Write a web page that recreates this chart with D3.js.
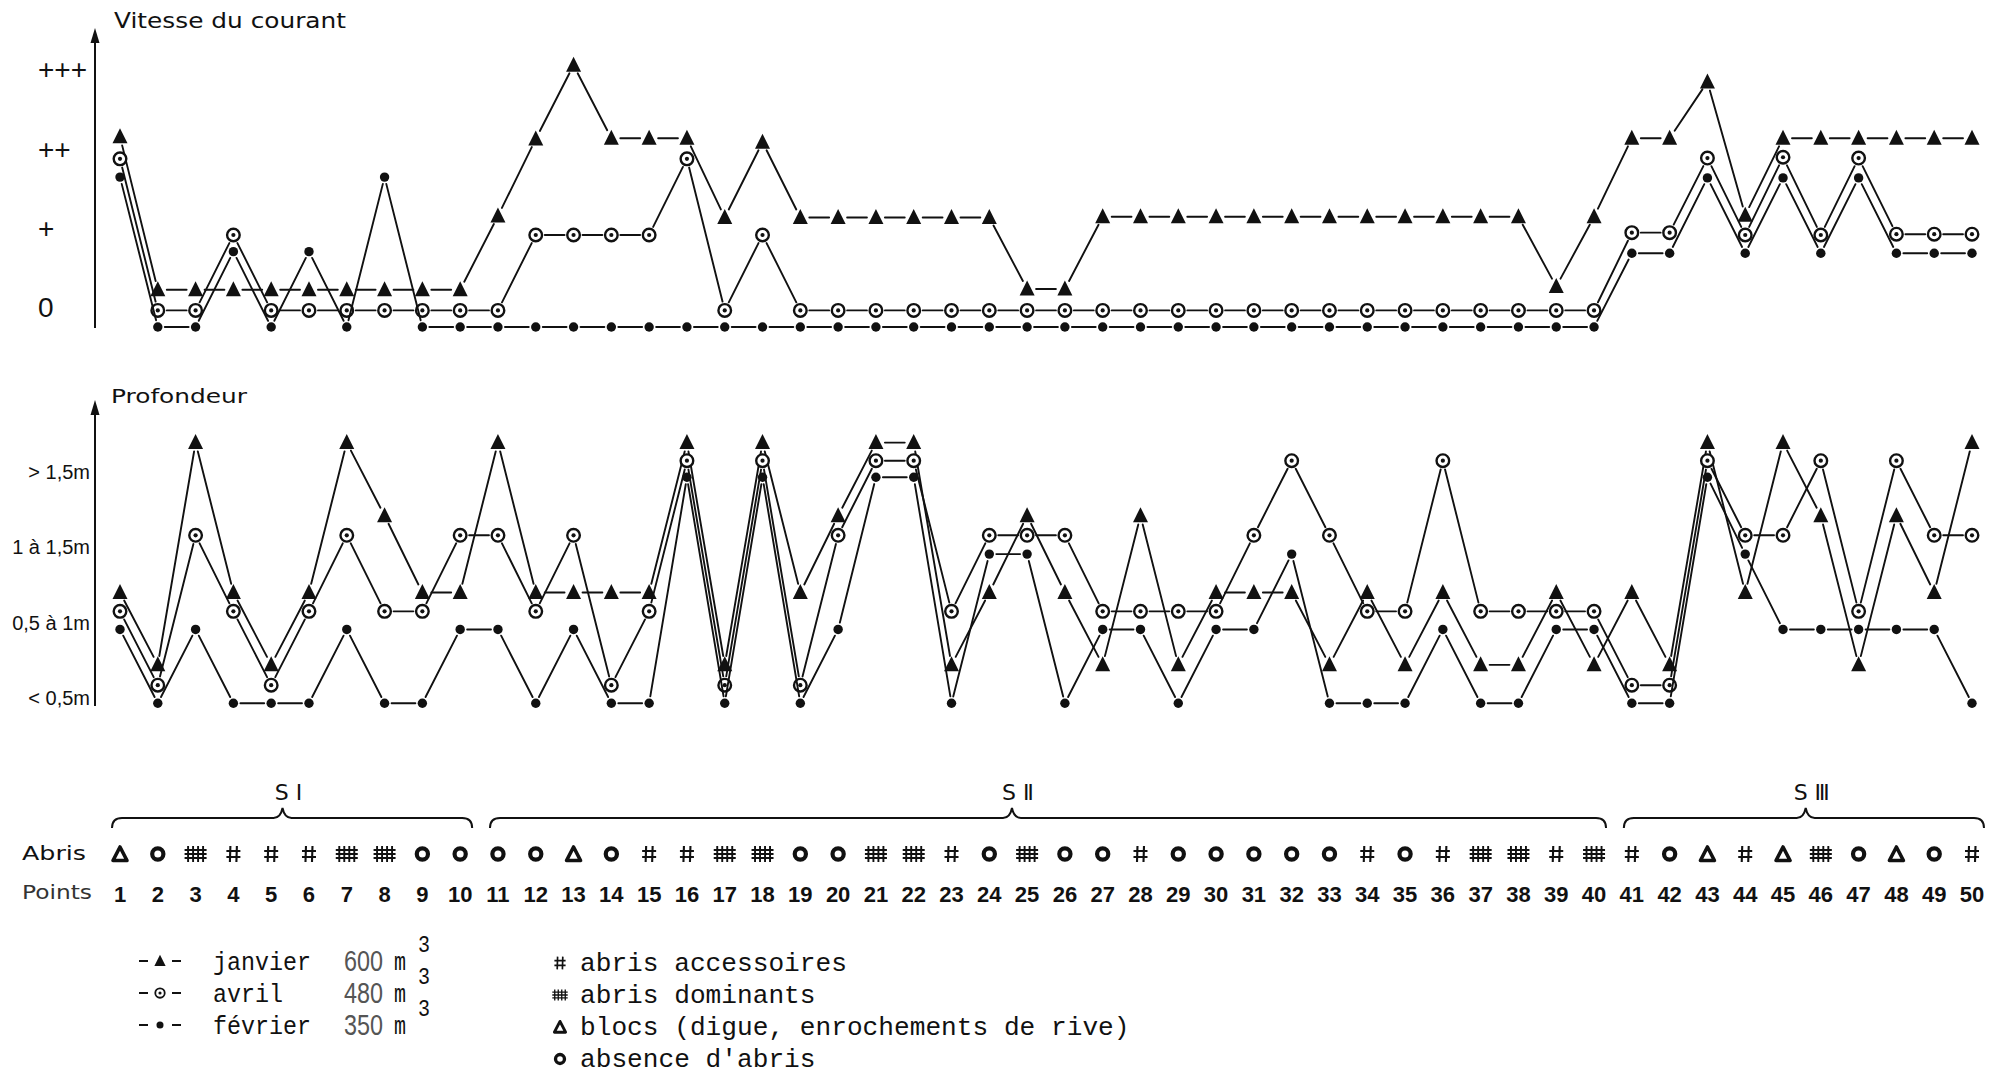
<!DOCTYPE html>
<html><head><meta charset="utf-8">
<script src="https://cdn.jsdelivr.net/npm/d3@7"></script>
<style>html,body{margin:0;padding:0;background:#fff;} svg{display:block}</style>
</head><body>
<svg id="chart" width="2010" height="1078"></svg>
<script>
// ---------- DATA ----------
const points = [1,2,3,4,5,6,7,8,9,10,11,12,13,14,15,16,17,18,19,20,21,22,23,24,25,26,27,28,29,30,31,32,33,34,35,36,37,38,39,40,41,42,43,44,45,46,47,48,49,50];
const abris = ["bloc","abs","dom","acc","acc","acc","dom","dom","abs","abs",
  "abs","abs","bloc","abs","acc","acc","dom","dom","abs","abs",
  "dom","dom","acc","abs","dom","abs","abs","acc","abs","abs",
  "abs","abs","abs","acc","abs","acc","dom","dom","acc","dom",
  "acc","abs","bloc","acc","bloc","dom","abs","bloc","abs","acc"];
const sectorLabels = ["S Ⅰ","S Ⅱ","S Ⅲ"];
const sectorFirst = [1,11,41];
const sectorLast = [10,40,50];
const sectorTip = [5.3,24.6,45.6];
const vitesseTicks = ["0","+","++","+++"];
const profondeurTicks = ["< 0,5m","0,5 à 1m","1 à 1,5m","> 1,5m"];
const seriesNames = ["janvier","avril","février"];
const seriesVolumes = ["600","480","350"];
const legendAbris = ["abris accessoires","abris dominants","blocs (digue, enrochements de rive)","absence d'abris"];

// Vitesse du courant (levels 0,+,++,+++)
const vitJanvier = [2.16,0.23,0.23,0.23,0.23,0.23,0.23,0.23,0.23,0.23,
  1.16,2.13,3.06,2.14,2.14,2.14,1.14,2.09,1.14,1.14,
  1.14,1.14,1.14,1.14,0.24,0.24,1.15,1.15,1.15,1.15,
  1.15,1.15,1.15,1.15,1.15,1.15,1.15,1.15,0.27,1.15,
  2.14,2.14,2.85,1.17,2.14,2.14,2.14,2.14,2.14,2.14];
const vitAvril = [1.88,-0.03,-0.03,0.92,-0.03,-0.03,-0.03,-0.03,-0.03,-0.03,
  -0.03,0.92,0.92,0.92,0.92,1.88,-0.03,0.92,-0.03,-0.03,
  -0.03,-0.03,-0.03,-0.03,-0.03,-0.03,-0.03,-0.03,-0.03,-0.03,
  -0.03,-0.03,-0.03,-0.03,-0.03,-0.03,-0.03,-0.03,-0.03,-0.03,
  0.95,0.95,1.89,0.92,1.90,0.92,1.89,0.93,0.93,0.93];
const vitFevrier = [1.65,-0.24,-0.24,0.71,-0.24,0.71,-0.24,1.65,-0.24,-0.24,
  -0.24,-0.24,-0.24,-0.24,-0.24,-0.24,-0.24,-0.24,-0.24,-0.24,
  -0.24,-0.24,-0.24,-0.24,-0.24,-0.24,-0.24,-0.24,-0.24,-0.24,
  -0.24,-0.24,-0.24,-0.24,-0.24,-0.24,-0.24,-0.24,-0.24,-0.24,
  0.69,0.69,1.64,0.69,1.64,0.69,1.64,0.69,0.69,0.69];

// Profondeur (levels <0,5 / 0,5-1 / 1-1,5 / >1,5)
const profJanvier = [1.40,0.44,3.39,1.40,0.44,1.40,3.39,2.42,1.40,1.40,
  3.39,1.40,1.40,1.40,1.40,3.39,0.44,3.39,1.40,2.42,
  3.39,3.39,0.44,1.40,2.42,1.40,0.44,2.42,0.44,1.40,
  1.40,1.40,0.44,1.40,0.44,1.40,0.44,0.44,1.40,0.44,
  1.40,0.44,3.39,1.40,3.39,2.42,0.44,2.42,1.40,3.39];
const profAvril = [1.15,0.17,2.16,1.15,0.17,1.15,2.16,1.15,1.15,2.16,
  2.16,1.15,2.16,0.17,1.15,3.15,0.17,3.15,0.17,2.16,
  3.15,3.15,1.15,2.16,2.16,2.16,1.15,1.15,1.15,1.15,
  2.16,3.15,2.16,1.15,1.15,3.15,1.15,1.15,1.15,1.15,
  0.17,0.17,3.15,2.16,2.16,3.15,1.15,3.15,2.16,2.16];
const profFevrier = [0.91,-0.07,0.91,-0.07,-0.07,-0.07,0.91,-0.07,-0.07,0.91,
  0.91,-0.07,0.91,-0.07,-0.07,2.93,-0.07,2.93,-0.07,0.91,
  2.93,2.93,-0.07,1.91,1.91,-0.07,0.91,0.91,-0.07,0.91,
  0.91,1.91,-0.07,-0.07,-0.07,0.91,-0.07,-0.07,0.91,0.91,
  -0.07,-0.07,2.93,1.91,0.91,0.91,0.91,0.91,0.91,-0.07];

// ---------- DRAWING ----------
const svg = d3.select("#chart");
const INK = "#111";
const x = d3.scaleLinear().domain([1,50]).range([120,1972]);
const yTop = d3.scaleLinear().domain([0,3]).range([308,70]);
const yBot = d3.scaleLinear().domain([0,3]).range([698,472]);
const axisX = 95;

const series = [
  {vit: vitJanvier, prof: profJanvier, marker: "tri", gap: 9},
  {vit: vitAvril, prof: profAvril, marker: "ring", gap: 9},
  {vit: vitFevrier, prof: profFevrier, marker: "dot", gap: 7}
];

function drawMarker(g, type, cx, cy, s) {
  s = s || 1;
  if (type === "tri") {
    g.append("path").attr("d", `M${cx},${cy-8.5*s} L${cx+7.5*s},${cy+6.5*s} L${cx-7.5*s},${cy+6.5*s} Z`).attr("fill", INK);
  } else if (type === "ring") {
    g.append("circle").attr("cx", cx).attr("cy", cy).attr("r", 6.3*s).attr("fill", "#fff").attr("stroke", INK).attr("stroke-width", 2.4*s);
    g.append("circle").attr("cx", cx).attr("cy", cy).attr("r", 2.1*s).attr("fill", INK);
  } else {
    g.append("circle").attr("cx", cx).attr("cy", cy).attr("r", 4.7*s).attr("fill", INK);
  }
}

function drawSeries(g, values, y, sr) {
  const pts = values.map((v, i) => [x(points[i]), y(v)]);
  for (let i = 0; i < pts.length - 1; i++) {
    const [x1, y1] = pts[i], [x2, y2] = pts[i+1];
    const dx = x2 - x1, dy = y2 - y1, len = Math.hypot(dx, dy);
    if (len <= sr.gap * 2 + 2) continue;
    const ux = dx / len, uy = dy / len;
    g.append("line")
      .attr("x1", x1 + ux * sr.gap).attr("y1", y1 + uy * sr.gap)
      .attr("x2", x2 - ux * sr.gap).attr("y2", y2 - uy * sr.gap)
      .attr("stroke", INK).attr("stroke-width", 1.9).attr("stroke-linecap", "round");
  }
  pts.forEach(p => drawMarker(g, sr.marker, p[0], p[1]));
}

function arrowAxis(yTopTip, yBottom) {
  svg.append("line").attr("x1", axisX).attr("x2", axisX).attr("y1", yTopTip + 8).attr("y2", yBottom)
    .attr("stroke", INK).attr("stroke-width", 2);
  svg.append("path").attr("d", `M${axisX},${yTopTip} L${axisX+4.5},${yTopTip+15} L${axisX-4.5},${yTopTip+15} Z`).attr("fill", INK);
}

// ---- Top chart: Vitesse du courant
arrowAxis(28, 328);
svg.append("text").attr("x", 114).attr("y", 28).attr("font-family", "DejaVu Sans").attr("font-size", 21)
  .attr("textLength", 232).attr("lengthAdjust", "spacingAndGlyphs").attr("fill", INK).text("Vitesse du courant");
const axTop = svg.append("g").attr("transform", `translate(${axisX},0)`)
  .call(d3.axisLeft(yTop).tickValues([0,1,2,3]).tickFormat(d => vitesseTicks[d]).tickSize(0));
axTop.select(".domain").remove();
axTop.selectAll("text").attr("x", -57).attr("text-anchor", "start")
  .attr("font-family", "Liberation Sans").attr("font-size", 28).attr("fill", INK);

const gTop = svg.append("g");
series.forEach(sr => drawSeries(gTop, sr.vit, yTop, sr));

// ---- Bottom chart: Profondeur
arrowAxis(400, 706);
svg.append("text").attr("x", 111).attr("y", 403).attr("font-family", "DejaVu Sans").attr("font-size", 19)
  .attr("textLength", 136).attr("lengthAdjust", "spacingAndGlyphs").attr("fill", INK).text("Profondeur");
const axBot = svg.append("g").attr("transform", `translate(${axisX},0)`)
  .call(d3.axisLeft(yBot).tickValues([0,1,2,3]).tickFormat(d => profondeurTicks[d]).tickSize(0).tickPadding(5));
axBot.select(".domain").remove();
axBot.selectAll("text").attr("font-family", "Liberation Sans").attr("font-size", 20).attr("fill", INK);

const gBot = svg.append("g");
series.forEach(sr => drawSeries(gBot, sr.prof, yBot, sr));

// ---- Sector braces
const braceY = 818;
sectorLabels.forEach((lab, i) => {
  const x1 = x(sectorFirst[i]) - 8, x2 = x(sectorLast[i]) + 12, xt = x(sectorTip[i]);
  const d = `M${x1},${braceY+10} Q${x1},${braceY} ${x1+10},${braceY} L${xt-9},${braceY} Q${xt-2},${braceY} ${xt},${braceY-10} Q${xt+2},${braceY} ${xt+9},${braceY} L${x2-10},${braceY} Q${x2},${braceY} ${x2},${braceY+10}`;
  svg.append("path").attr("d", d).attr("fill", "none").attr("stroke", INK).attr("stroke-width", 2);
  svg.append("text").attr("x", xt + 6).attr("y", braceY - 18).attr("text-anchor", "middle")
    .attr("font-family", "DejaVu Sans").attr("font-size", 22).attr("fill", INK).text(lab);
});

// ---- Abris symbols
function drawAbri(g, type, cx, cy, s) {
  s = s || 1;
  if (type === "bloc") {
    g.append("path").attr("d", `M${cx},${cy-7*s} L${cx+7*s},${cy+6.5*s} L${cx-7*s},${cy+6.5*s} Z`)
      .attr("fill", "none").attr("stroke", INK).attr("stroke-width", 3.6*s).attr("stroke-linejoin", "round");
  } else if (type === "abs") {
    g.append("circle").attr("cx", cx).attr("cy", cy).attr("r", 5.6*s).attr("fill", "none")
      .attr("stroke", INK).attr("stroke-width", 4.2*s);
  } else if (type === "acc") {
    const p = [`M${cx-3*s},${cy-8*s} L${cx-3.5*s},${cy+8*s}`, `M${cx+3.5*s},${cy-8*s} L${cx+3*s},${cy+8*s}`,
      `M${cx-7*s},${cy-3*s} L${cx+7*s},${cy-3*s}`, `M${cx-7*s},${cy+3*s} L${cx+7*s},${cy+3*s}`];
    g.append("path").attr("d", p.join(" ")).attr("stroke", INK).attr("stroke-width", 2.1*s).attr("fill", "none");
  } else {
    const p = [];
    [-7.5, -2.5, 2.5, 7.5].forEach(o => p.push(`M${cx+o*s},${cy-8*s} L${cx+o*s},${cy+8*s}`));
    [-4, 0, 4].forEach(o => p.push(`M${cx-11*s},${cy+o*s} L${cx+11*s},${cy+o*s}`));
    g.append("path").attr("d", p.join(" ")).attr("stroke", INK).attr("stroke-width", 1.9*s).attr("fill", "none");
  }
}
svg.append("text").attr("x", 22).attr("y", 860).attr("font-family", "DejaVu Sans").attr("font-size", 20)
  .attr("textLength", 64).attr("lengthAdjust", "spacingAndGlyphs").attr("fill", INK).text("Abris");
svg.append("text").attr("x", 22).attr("y", 899).attr("font-family", "DejaVu Sans").attr("font-size", 20)
  .attr("textLength", 70).attr("lengthAdjust", "spacingAndGlyphs").attr("fill", "#333").text("Points");
const gAb = svg.append("g");
abris.forEach((a, i) => drawAbri(gAb, a, x(points[i]), 854));
svg.append("g").selectAll("text").data(points).join("text")
  .attr("x", d => x(d)).attr("y", 902).attr("text-anchor", "middle")
  .attr("font-family", "Liberation Sans").attr("font-weight", "bold").attr("font-size", 22).attr("fill", INK)
  .text(d => d);

// ---- Legend
const legRows = [961, 993, 1025];
const legMarkers = ["tri", "ring", "dot"];
seriesNames.forEach((n, i) => {
  const cy = legRows[i];
  svg.append("line").attr("x1", 139).attr("x2", 148).attr("y1", cy).attr("y2", cy).attr("stroke", INK).attr("stroke-width", 2);
  svg.append("line").attr("x1", 172).attr("x2", 181).attr("y1", cy).attr("y2", cy).attr("stroke", INK).attr("stroke-width", 2);
  drawMarker(svg, legMarkers[i], 160, cy, 0.75);
  svg.append("text").attr("x", 213).attr("y", cy + 9).attr("font-family", "Liberation Mono").attr("font-size", 26)
    .attr("textLength", n.length * 14).attr("lengthAdjust", "spacingAndGlyphs").attr("fill", INK).text(n);
  svg.append("text").attr("x", 344).attr("y", cy + 10).attr("font-family", "Liberation Sans").attr("font-size", 29)
    .attr("textLength", 39).attr("lengthAdjust", "spacingAndGlyphs").attr("fill", "#555").text(seriesVolumes[i]);
  svg.append("text").attr("x", 394).attr("y", cy + 9).attr("font-family", "Liberation Mono").attr("font-size", 26)
    .attr("textLength", 12).attr("lengthAdjust", "spacingAndGlyphs").attr("fill", INK).text("m");
  svg.append("text").attr("x", 418).attr("y", cy - 9).attr("font-family", "Liberation Mono").attr("font-size", 24)
    .attr("textLength", 12).attr("lengthAdjust", "spacingAndGlyphs").attr("fill", INK).text("3");
});
const legRowsR = [962, 994, 1026, 1058];
const legTypes = ["acc", "dom", "bloc", "abs"];
legendAbris.forEach((t, i) => {
  const cy = legRowsR[i];
  drawAbri(svg, legTypes[i], 560, cy + 1, legTypes[i] === "dom" ? 0.7 : 0.8);
  svg.append("text").attr("x", 580).attr("y", cy + 9).attr("font-family", "Liberation Mono").attr("font-size", 26)
    .attr("textLength", t.length * 15.7).attr("lengthAdjust", "spacingAndGlyphs").attr("fill", INK).text(t);
});
</script>
</body></html>
